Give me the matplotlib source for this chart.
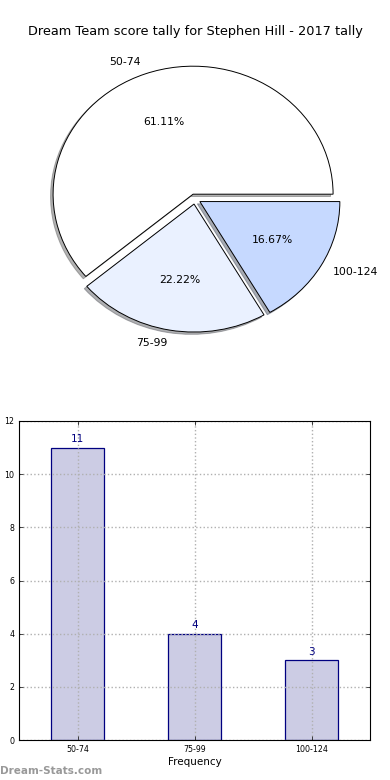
import matplotlib
matplotlib.use("Agg")
import matplotlib.pyplot as plt

title = "Dream Team score tally for Stephen Hill - 2017 tally"
categories = ["50-74", "75-99", "100-124"]
counts = [11, 4, 3]
pie_colors = ["#ffffff", "#eaf1ff", "#c6d9ff"]
explode = [0.04, 0.04, 0.04]

fig = plt.figure(figsize=(3.9, 7.8), dpi=100)

# Pie chart
ax1 = fig.add_axes([20/390, 1 - 359/780, 350/390, 320/780])
wedges, texts, autotexts = ax1.pie(
    counts, labels=categories, colors=pie_colors, explode=explode,
    autopct="%.2f%%", shadow={"ox": -0.013, "oy": -0.013, "shade": 0.6}, startangle=0,
    wedgeprops=dict(edgecolor="black", linewidth=0.7),
    textprops=dict(fontsize=7.8))
ax1.set_aspect("auto")
ax1.set_xlim(-1.25, 1.25)
ax1.set_ylim(-1.25, 1.25)
ax1.set_title(title, fontsize=9.3, pad=3)

# Bar chart
ax2 = fig.add_axes([19/390, 40/780, 351/390, 319/780])
x = range(len(categories))
bars = ax2.bar(x, counts, width=0.45, color="#ccccE4", edgecolor="navy", linewidth=0.9, zorder=1)
for xi, c in zip(x, counts):
    ax2.text(xi, c + 0.12, str(c), ha="center", va="bottom", color="navy", fontsize=7.5)
ax2.set_xlim(-0.5, 2.5)
ax2.set_ylim(0, 12)
ax2.set_xticks(list(x))
ax2.set_xticklabels(categories, fontsize=5.7)
ax2.set_yticks(range(0, 13, 2))
ax2.tick_params(axis="y", labelsize=5.7)
ax2.tick_params(direction="in", top=True, right=True, length=3, width=0.5)
ax2.set_axisbelow("line")
ax2.grid(True, linestyle=":", color="#b0b0b0", linewidth=1.0)
ax2.set_xlabel("Frequency", fontsize=7.5, labelpad=2)
ax2.set_ylabel("Score Interval", fontsize=7.5, labelpad=6)
for s in ax2.spines.values():
    s.set_linewidth(0.8)
    s.set_zorder(3)

fig.text(0.0, 4/780, "Dream-Stats.com", fontsize=7.5, color="#999999", fontweight="bold",
         ha="left", va="bottom")

fig.savefig("out.png", dpi=100)
